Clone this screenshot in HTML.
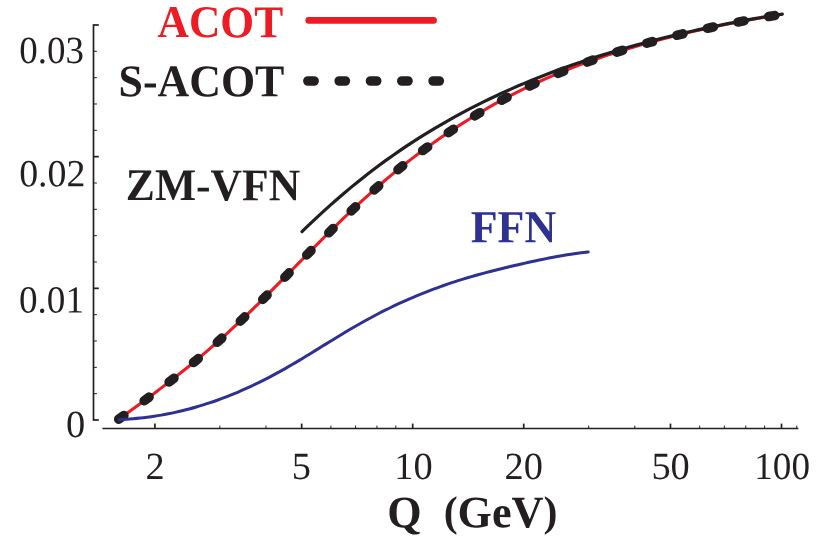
<!DOCTYPE html>
<html><head><meta charset="utf-8"><title>chart</title>
<style>html,body{margin:0;padding:0;background:#fff;}body{width:830px;height:559px;overflow:hidden;font-family:"Liberation Serif",serif;}svg{display:block;will-change:transform;}</style>
</head><body>
<svg width="830" height="559" viewBox="0 0 830 559">
<rect width="830" height="559" fill="#fff"/>
<g stroke="#231f20" fill="none">
<line x1="93.5" y1="24.2" x2="93.5" y2="420.8" stroke-width="1.7"/>
<line x1="102.4" y1="428.6" x2="798.4" y2="428.6" stroke-width="1.5"/>
<line x1="93.5" y1="420.00" x2="98.8" y2="420.00" stroke-width="1.7"/>
<line x1="93.5" y1="393.67" x2="96.9" y2="393.67" stroke-width="1"/>
<line x1="93.5" y1="367.33" x2="96.9" y2="367.33" stroke-width="1"/>
<line x1="93.5" y1="341.00" x2="96.9" y2="341.00" stroke-width="1"/>
<line x1="93.5" y1="314.66" x2="96.9" y2="314.66" stroke-width="1"/>
<line x1="93.5" y1="288.33" x2="98.8" y2="288.33" stroke-width="1.7"/>
<line x1="93.5" y1="262.00" x2="96.9" y2="262.00" stroke-width="1"/>
<line x1="93.5" y1="235.66" x2="96.9" y2="235.66" stroke-width="1"/>
<line x1="93.5" y1="209.33" x2="96.9" y2="209.33" stroke-width="1"/>
<line x1="93.5" y1="182.99" x2="96.9" y2="182.99" stroke-width="1"/>
<line x1="93.5" y1="156.66" x2="98.8" y2="156.66" stroke-width="1.7"/>
<line x1="93.5" y1="130.33" x2="96.9" y2="130.33" stroke-width="1"/>
<line x1="93.5" y1="103.99" x2="96.9" y2="103.99" stroke-width="1"/>
<line x1="93.5" y1="77.66" x2="96.9" y2="77.66" stroke-width="1"/>
<line x1="93.5" y1="51.32" x2="96.9" y2="51.32" stroke-width="1"/>
<line x1="93.5" y1="24.99" x2="98.8" y2="24.99" stroke-width="1.7"/>
<line x1="154.92" y1="428.6" x2="154.92" y2="423.6" stroke-width="1.7"/>
<line x1="301.68" y1="428.6" x2="301.68" y2="423.6" stroke-width="1.7"/>
<line x1="412.70" y1="428.6" x2="412.70" y2="423.6" stroke-width="1.7"/>
<line x1="523.72" y1="428.6" x2="523.72" y2="423.6" stroke-width="1.7"/>
<line x1="670.48" y1="428.6" x2="670.48" y2="423.6" stroke-width="1.7"/>
<line x1="781.50" y1="428.6" x2="781.50" y2="423.6" stroke-width="1.7"/>
<line x1="219.86" y1="428.6" x2="219.86" y2="425.6" stroke-width="1"/>
<line x1="265.94" y1="428.6" x2="265.94" y2="425.6" stroke-width="1"/>
<line x1="330.88" y1="428.6" x2="330.88" y2="425.6" stroke-width="1"/>
<line x1="355.57" y1="428.6" x2="355.57" y2="425.6" stroke-width="1"/>
<line x1="376.96" y1="428.6" x2="376.96" y2="425.6" stroke-width="1"/>
<line x1="395.82" y1="428.6" x2="395.82" y2="425.6" stroke-width="1"/>
<line x1="588.66" y1="428.6" x2="588.66" y2="425.6" stroke-width="1"/>
<line x1="634.74" y1="428.6" x2="634.74" y2="425.6" stroke-width="1"/>
<line x1="699.68" y1="428.6" x2="699.68" y2="425.6" stroke-width="1"/>
<line x1="724.37" y1="428.6" x2="724.37" y2="425.6" stroke-width="1"/>
<line x1="745.76" y1="428.6" x2="745.76" y2="425.6" stroke-width="1"/>
<line x1="764.62" y1="428.6" x2="764.62" y2="425.6" stroke-width="1"/>
<line x1="796.77" y1="428.6" x2="796.77" y2="425.6" stroke-width="1"/>
</g>
<g>
<path d="M118.50 419.34 C119.66 418.50 123.16 416.01 125.49 414.34 C127.82 412.66 130.15 410.99 132.47 409.30 C134.80 407.61 137.13 405.92 139.46 404.22 C141.79 402.52 144.12 400.81 146.45 399.09 C148.78 397.36 151.11 395.63 153.44 393.89 C155.77 392.15 158.10 390.39 160.42 388.63 C162.75 386.86 165.08 385.08 167.41 383.28 C169.74 381.49 172.07 379.68 174.40 377.85 C176.73 376.03 179.06 374.19 181.39 372.33 C183.72 370.47 186.04 368.60 188.37 366.70 C190.70 364.81 193.03 362.90 195.36 360.97 C197.69 359.04 200.02 357.09 202.35 355.11 C204.68 353.14 207.01 351.15 209.34 349.14 C211.66 347.12 213.99 345.09 216.32 343.03 C218.65 340.98 220.98 338.90 223.31 336.80 C225.64 334.70 227.97 332.58 230.30 330.44 C232.63 328.29 234.96 326.13 237.29 323.95 C239.61 321.77 241.94 319.56 244.27 317.34 C246.60 315.12 248.93 312.88 251.26 310.62 C253.59 308.37 255.92 306.09 258.25 303.81 C260.58 301.52 262.91 299.21 265.23 296.90 C267.56 294.59 269.89 292.26 272.22 289.92 C274.55 287.59 276.88 285.24 279.21 282.89 C281.54 280.54 283.87 278.18 286.20 275.82 C288.53 273.46 290.86 271.09 293.18 268.73 C295.51 266.36 297.84 263.99 300.17 261.63 C302.50 259.26 304.83 256.89 307.16 254.53 C309.49 252.17 311.82 249.81 314.15 247.46 C316.48 245.11 318.80 242.77 321.13 240.44 C323.46 238.10 325.79 235.77 328.12 233.46 C330.45 231.15 332.78 228.84 335.11 226.55 C337.44 224.26 339.77 221.99 342.10 219.73 C344.42 217.47 346.75 215.23 349.08 213.00 C351.41 210.78 353.74 208.57 356.07 206.39 C358.40 204.20 360.73 202.04 363.06 199.90 C365.39 197.75 367.72 195.63 370.05 193.54 C372.37 191.45 374.70 189.37 377.03 187.33 C379.36 185.28 381.69 183.26 384.02 181.27 C386.35 179.28 388.68 177.31 391.01 175.37 C393.34 173.43 395.67 171.51 397.99 169.63 C400.32 167.74 402.65 165.88 404.98 164.04 C407.31 162.21 409.64 160.40 411.97 158.61 C414.30 156.83 416.63 155.07 418.96 153.34 C421.29 151.60 423.62 149.89 425.94 148.20 C428.27 146.51 430.60 144.85 432.93 143.20 C435.26 141.56 437.59 139.94 439.92 138.33 C442.25 136.73 444.58 135.15 446.91 133.58 C449.24 132.01 451.56 130.47 453.89 128.94 C456.22 127.41 458.55 125.90 460.88 124.41 C463.21 122.92 465.54 121.45 467.87 119.99 C470.20 118.54 472.53 117.10 474.86 115.68 C477.18 114.26 479.51 112.86 481.84 111.48 C484.17 110.10 486.50 108.74 488.83 107.40 C491.16 106.06 493.49 104.74 495.82 103.44 C498.15 102.14 500.48 100.86 502.81 99.60 C505.13 98.34 507.46 97.11 509.79 95.89 C512.12 94.67 514.45 93.47 516.78 92.30 C519.11 91.12 521.44 89.96 523.77 88.82 C526.10 87.68 528.43 86.57 530.75 85.47 C533.08 84.37 535.41 83.29 537.74 82.23 C540.07 81.16 542.40 80.12 544.73 79.09 C547.06 78.07 549.39 77.06 551.72 76.06 C554.05 75.07 556.38 74.10 558.70 73.13 C561.03 72.17 563.36 71.23 565.69 70.30 C568.02 69.37 570.35 68.46 572.68 67.56 C575.01 66.66 577.34 65.77 579.67 64.90 C582.00 64.03 584.32 63.17 586.65 62.33 C588.98 61.48 591.31 60.65 593.64 59.83 C595.97 59.02 598.30 58.21 600.63 57.42 C602.96 56.63 605.29 55.85 607.62 55.08 C609.94 54.31 612.27 53.55 614.60 52.81 C616.93 52.06 619.26 51.33 621.59 50.60 C623.92 49.88 626.25 49.17 628.58 48.46 C630.91 47.76 633.24 47.07 635.57 46.39 C637.89 45.71 640.22 45.04 642.55 44.38 C644.88 43.72 647.21 43.07 649.54 42.43 C651.87 41.79 654.20 41.15 656.53 40.53 C658.86 39.91 661.19 39.30 663.51 38.69 C665.84 38.09 668.17 37.49 670.50 36.90 C672.83 36.32 675.16 35.74 677.49 35.17 C679.82 34.60 682.15 34.04 684.48 33.48 C686.81 32.93 689.14 32.38 691.46 31.85 C693.79 31.31 696.12 30.78 698.45 30.25 C700.78 29.73 703.11 29.22 705.44 28.71 C707.77 28.20 710.10 27.70 712.43 27.20 C714.76 26.71 717.08 26.22 719.41 25.74 C721.74 25.26 724.07 24.79 726.40 24.32 C728.73 23.86 731.06 23.40 733.39 22.94 C735.72 22.49 738.05 22.04 740.38 21.60 C742.70 21.16 745.03 20.72 747.36 20.29 C749.69 19.86 752.02 19.44 754.35 19.02 C756.68 18.60 759.01 18.19 761.34 17.79 C763.67 17.38 766.00 16.98 768.33 16.58 C770.65 16.19 772.98 15.80 775.31 15.42 C777.64 15.03 781.14 14.47 782.30 14.28" fill="none" stroke="#ed1c24" stroke-width="3.1"/>
<path d="M302.00 231.58 C303.16 230.47 306.64 227.11 308.96 224.91 C311.28 222.70 313.60 220.52 315.92 218.35 C318.24 216.19 320.56 214.05 322.88 211.93 C325.20 209.81 327.52 207.72 329.84 205.64 C332.16 203.57 334.48 201.52 336.80 199.50 C339.12 197.48 341.44 195.48 343.77 193.50 C346.09 191.53 348.41 189.58 350.73 187.65 C353.05 185.73 355.37 183.83 357.69 181.95 C360.01 180.08 362.33 178.23 364.65 176.41 C366.97 174.58 369.29 172.79 371.61 171.01 C373.93 169.24 376.25 167.49 378.57 165.77 C380.89 164.04 383.21 162.34 385.53 160.66 C387.85 158.99 390.17 157.33 392.49 155.70 C394.81 154.07 397.13 152.46 399.45 150.88 C401.77 149.29 404.09 147.73 406.41 146.18 C408.73 144.64 411.05 143.12 413.37 141.61 C415.69 140.11 418.01 138.63 420.33 137.17 C422.66 135.70 424.98 134.26 427.30 132.84 C429.62 131.41 431.94 130.01 434.26 128.62 C436.58 127.24 438.90 125.87 441.22 124.52 C443.54 123.17 445.86 121.84 448.18 120.53 C450.50 119.22 452.82 117.92 455.14 116.65 C457.46 115.37 459.78 114.11 462.10 112.86 C464.42 111.62 466.74 110.40 469.06 109.19 C471.38 107.98 473.70 106.78 476.02 105.61 C478.34 104.43 480.66 103.27 482.98 102.12 C485.30 100.98 487.62 99.85 489.94 98.74 C492.26 97.62 494.58 96.52 496.90 95.44 C499.22 94.35 501.54 93.29 503.87 92.23 C506.19 91.18 508.51 90.14 510.83 89.11 C513.15 88.08 515.47 87.07 517.79 86.07 C520.11 85.07 522.43 84.09 524.75 83.12 C527.07 82.15 529.39 81.19 531.71 80.24 C534.03 79.30 536.35 78.37 538.67 77.45 C540.99 76.53 543.31 75.62 545.63 74.72 C547.95 73.83 550.27 72.94 552.59 72.07 C554.91 71.20 557.23 70.34 559.55 69.49 C561.87 68.64 564.19 67.80 566.51 66.98 C568.83 66.15 571.15 65.34 573.47 64.53 C575.79 63.73 578.11 62.93 580.43 62.15 C582.76 61.36 585.08 60.59 587.40 59.82 C589.72 59.06 592.04 58.31 594.36 57.56 C596.68 56.82 599.00 56.08 601.32 55.36 C603.64 54.63 605.96 53.91 608.28 53.21 C610.60 52.50 612.92 51.80 615.24 51.11 C617.56 50.42 619.88 49.74 622.20 49.07 C624.52 48.39 626.84 47.73 629.16 47.07 C631.48 46.42 633.80 45.77 636.12 45.13 C638.44 44.49 640.76 43.86 643.08 43.24 C645.40 42.61 647.72 41.99 650.04 41.39 C652.36 40.78 654.68 40.18 657.00 39.58 C659.32 38.99 661.64 38.40 663.97 37.82 C666.29 37.24 668.61 36.67 670.93 36.11 C673.25 35.54 675.57 34.98 677.89 34.43 C680.21 33.88 682.53 33.34 684.85 32.80 C687.17 32.26 689.49 31.73 691.81 31.21 C694.13 30.69 696.45 30.17 698.77 29.66 C701.09 29.15 703.41 28.65 705.73 28.15 C708.05 27.65 710.37 27.16 712.69 26.68 C715.01 26.19 717.33 25.71 719.65 25.24 C721.97 24.77 724.29 24.31 726.61 23.85 C728.93 23.39 731.25 22.94 733.57 22.49 C735.89 22.04 738.21 21.60 740.53 21.17 C742.86 20.74 745.18 20.31 747.50 19.89 C749.82 19.47 752.14 19.05 754.46 18.65 C756.78 18.24 759.10 17.84 761.42 17.44 C763.74 17.05 766.06 16.66 768.38 16.27 C770.70 15.89 773.02 15.52 775.34 15.15 C777.66 14.78 781.14 14.24 782.30 14.06" fill="none" stroke="#231f20" stroke-width="3.2" stroke-linecap="round"/>
<path d="M118.50 419.34 C119.66 418.50 123.16 416.01 125.49 414.34 C127.82 412.66 130.15 410.99 132.47 409.30 C134.80 407.61 137.13 405.92 139.46 404.22 C141.79 402.52 144.12 400.81 146.45 399.09 C148.78 397.36 151.11 395.63 153.44 393.89 C155.77 392.15 158.10 390.39 160.42 388.63 C162.75 386.86 165.08 385.08 167.41 383.28 C169.74 381.49 172.07 379.68 174.40 377.85 C176.73 376.03 179.06 374.19 181.39 372.33 C183.72 370.47 186.04 368.60 188.37 366.70 C190.70 364.81 193.03 362.90 195.36 360.97 C197.69 359.04 200.02 357.09 202.35 355.11 C204.68 353.14 207.01 351.15 209.34 349.14 C211.66 347.12 213.99 345.09 216.32 343.03 C218.65 340.98 220.98 338.90 223.31 336.80 C225.64 334.70 227.97 332.58 230.30 330.44 C232.63 328.29 234.96 326.13 237.29 323.95 C239.61 321.77 241.94 319.56 244.27 317.34 C246.60 315.12 248.93 312.88 251.26 310.62 C253.59 308.37 255.92 306.09 258.25 303.81 C260.58 301.52 262.91 299.21 265.23 296.90 C267.56 294.59 269.89 292.26 272.22 289.92 C274.55 287.59 276.88 285.24 279.21 282.89 C281.54 280.54 283.87 278.18 286.20 275.82 C288.53 273.46 290.86 271.09 293.18 268.73 C295.51 266.36 297.84 263.99 300.17 261.63 C302.50 259.26 304.83 256.89 307.16 254.53 C309.49 252.17 311.82 249.81 314.15 247.46 C316.48 245.11 318.80 242.77 321.13 240.44 C323.46 238.10 325.79 235.77 328.12 233.46 C330.45 231.15 332.78 228.84 335.11 226.55 C337.44 224.26 339.77 221.99 342.10 219.73 C344.42 217.47 346.75 215.23 349.08 213.00 C351.41 210.78 353.74 208.57 356.07 206.39 C358.40 204.20 360.73 202.04 363.06 199.90 C365.39 197.75 367.72 195.63 370.05 193.54 C372.37 191.45 374.70 189.37 377.03 187.33 C379.36 185.28 381.69 183.26 384.02 181.27 C386.35 179.28 388.68 177.31 391.01 175.37 C393.34 173.43 395.67 171.51 397.99 169.63 C400.32 167.74 402.65 165.88 404.98 164.04 C407.31 162.21 409.64 160.40 411.97 158.61 C414.30 156.83 416.63 155.07 418.96 153.34 C421.29 151.60 423.62 149.89 425.94 148.20 C428.27 146.51 430.60 144.85 432.93 143.20 C435.26 141.56 437.59 139.94 439.92 138.33 C442.25 136.73 444.58 135.15 446.91 133.58 C449.24 132.01 451.56 130.47 453.89 128.94 C456.22 127.41 458.55 125.90 460.88 124.41 C463.21 122.92 465.54 121.45 467.87 119.99 C470.20 118.54 472.53 117.10 474.86 115.68 C477.18 114.26 479.51 112.86 481.84 111.48 C484.17 110.10 486.50 108.74 488.83 107.40 C491.16 106.06 493.49 104.74 495.82 103.44 C498.15 102.14 500.48 100.86 502.81 99.60 C505.13 98.34 507.46 97.11 509.79 95.89 C512.12 94.67 514.45 93.47 516.78 92.30 C519.11 91.12 521.44 89.96 523.77 88.82 C526.10 87.68 528.43 86.57 530.75 85.47 C533.08 84.37 535.41 83.29 537.74 82.23 C540.07 81.16 542.40 80.12 544.73 79.09 C547.06 78.07 549.39 77.06 551.72 76.06 C554.05 75.07 556.38 74.10 558.70 73.13 C561.03 72.17 563.36 71.23 565.69 70.30 C568.02 69.37 570.35 68.46 572.68 67.56 C575.01 66.66 577.34 65.77 579.67 64.90 C582.00 64.03 584.32 63.17 586.65 62.33 C588.98 61.48 591.31 60.65 593.64 59.83 C595.97 59.02 598.30 58.21 600.63 57.42 C602.96 56.63 605.29 55.85 607.62 55.08 C609.94 54.31 612.27 53.55 614.60 52.81 C616.93 52.06 619.26 51.33 621.59 50.60 C623.92 49.88 626.25 49.17 628.58 48.46 C630.91 47.76 633.24 47.07 635.57 46.39 C637.89 45.71 640.22 45.04 642.55 44.38 C644.88 43.72 647.21 43.07 649.54 42.43 C651.87 41.79 654.20 41.15 656.53 40.53 C658.86 39.91 661.19 39.30 663.51 38.69 C665.84 38.09 668.17 37.49 670.50 36.90 C672.83 36.32 675.16 35.74 677.49 35.17 C679.82 34.60 682.15 34.04 684.48 33.48 C686.81 32.93 689.14 32.38 691.46 31.85 C693.79 31.31 696.12 30.78 698.45 30.25 C700.78 29.73 703.11 29.22 705.44 28.71 C707.77 28.20 710.10 27.70 712.43 27.20 C714.76 26.71 717.08 26.22 719.41 25.74 C721.74 25.26 724.07 24.79 726.40 24.32 C728.73 23.86 731.06 23.40 733.39 22.94 C735.72 22.49 738.05 22.04 740.38 21.60 C742.70 21.16 745.03 20.72 747.36 20.29 C749.69 19.86 752.02 19.44 754.35 19.02 C756.68 18.60 759.01 18.19 761.34 17.79 C763.67 17.38 766.00 16.98 768.33 16.58 C770.65 16.19 772.98 15.80 775.31 15.42 C777.64 15.03 781.14 14.47 782.30 14.28" fill="none" stroke="#231f20" stroke-width="9.5" stroke-linecap="round" stroke-dasharray="6.2 25.04" stroke-dashoffset="-0.4"/>
<path d="M119.20 419.64 C120.37 419.58 123.87 419.43 126.20 419.29 C128.53 419.14 130.87 418.97 133.20 418.77 C135.53 418.58 137.87 418.35 140.20 418.10 C142.53 417.86 144.87 417.58 147.20 417.28 C149.53 416.97 151.87 416.65 154.20 416.29 C156.53 415.93 158.87 415.55 161.20 415.14 C163.53 414.74 165.87 414.30 168.20 413.84 C170.53 413.38 172.87 412.89 175.20 412.37 C177.53 411.86 179.87 411.32 182.20 410.75 C184.53 410.18 186.87 409.59 189.20 408.97 C191.53 408.34 193.87 407.70 196.20 407.02 C198.53 406.35 200.87 405.65 203.20 404.92 C205.53 404.19 207.87 403.44 210.20 402.66 C212.53 401.88 214.87 401.07 217.20 400.23 C219.53 399.40 221.87 398.54 224.20 397.65 C226.53 396.77 228.87 395.85 231.20 394.91 C233.53 393.97 235.87 393.01 238.20 392.01 C240.53 391.02 242.87 390.00 245.20 388.96 C247.53 387.91 249.87 386.84 252.20 385.75 C254.53 384.65 256.87 383.53 259.20 382.38 C261.53 381.23 263.87 380.05 266.20 378.85 C268.53 377.66 270.87 376.43 273.20 375.18 C275.53 373.93 277.87 372.66 280.20 371.37 C282.53 370.07 284.87 368.75 287.20 367.42 C289.53 366.08 291.87 364.72 294.20 363.35 C296.53 361.98 298.87 360.59 301.20 359.19 C303.53 357.79 305.87 356.37 308.20 354.94 C310.53 353.52 312.87 352.08 315.20 350.64 C317.53 349.20 319.87 347.76 322.20 346.31 C324.53 344.87 326.87 343.42 329.20 341.98 C331.53 340.55 333.87 339.11 336.20 337.69 C338.53 336.26 340.87 334.85 343.20 333.45 C345.53 332.05 347.87 330.66 350.20 329.29 C352.53 327.92 354.87 326.57 357.20 325.23 C359.53 323.90 361.87 322.58 364.20 321.29 C366.53 319.99 368.87 318.72 371.20 317.47 C373.53 316.21 375.87 314.98 378.20 313.77 C380.53 312.56 382.87 311.37 385.20 310.21 C387.53 309.04 389.87 307.90 392.20 306.77 C394.53 305.65 396.87 304.55 399.20 303.47 C401.53 302.39 403.87 301.33 406.20 300.30 C408.53 299.26 410.87 298.25 413.20 297.26 C415.53 296.26 417.87 295.29 420.20 294.34 C422.53 293.39 424.87 292.46 427.20 291.55 C429.53 290.65 431.87 289.76 434.20 288.89 C436.53 288.02 438.87 287.18 441.20 286.35 C443.53 285.52 445.87 284.71 448.20 283.92 C450.53 283.13 452.87 282.36 455.20 281.60 C457.53 280.85 459.87 280.11 462.20 279.39 C464.53 278.67 466.87 277.97 469.20 277.28 C471.53 276.59 473.87 275.92 476.20 275.27 C478.53 274.61 480.87 273.97 483.20 273.34 C485.53 272.71 487.87 272.09 490.20 271.48 C492.53 270.88 494.87 270.29 497.20 269.70 C499.53 269.12 501.87 268.55 504.20 267.98 C506.53 267.42 508.87 266.86 511.20 266.31 C513.53 265.77 515.87 265.23 518.20 264.69 C520.53 264.16 522.87 263.63 525.20 263.11 C527.53 262.58 529.87 262.07 532.20 261.56 C534.53 261.05 536.87 260.55 539.20 260.06 C541.53 259.57 543.87 259.08 546.20 258.61 C548.53 258.14 550.87 257.68 553.20 257.23 C555.53 256.78 557.87 256.34 560.20 255.92 C562.53 255.51 564.87 255.10 567.20 254.72 C569.53 254.34 571.87 253.97 574.20 253.64 C576.53 253.30 578.87 252.99 581.20 252.71 C583.53 252.43 587.03 252.08 588.20 251.96" fill="none" stroke="#2e3192" stroke-width="3.0" stroke-linecap="round"/>
<line x1="308.7" y1="20.4" x2="433.6" y2="20.4" stroke="#ed1c24" stroke-width="6.6" stroke-linecap="round"/>
<line x1="307.9" y1="81" x2="445" y2="81" stroke="#231f20" stroke-width="9.6" stroke-linecap="round" stroke-dasharray="6.2 25.1"/>
</g>
<g font-family="'Liberation Serif', serif">
<text transform="translate(157.59 37.10) rotate(0.03) scale(0.9551 1)" font-size="45.5" font-weight="bold" fill="#ed1c24" xml:space="preserve" style="white-space:pre">ACOT</text>
<text transform="translate(118.49 96.30) rotate(0.03) scale(0.9650 1)" font-size="45.5" font-weight="bold" fill="#231f20" xml:space="preserve" style="white-space:pre">S-ACOT</text>
<text transform="translate(125.86 200.10) rotate(0.03) scale(0.9623 1)" font-size="45.3" font-weight="bold" fill="#231f20" xml:space="preserve" style="white-space:pre">ZM-VFN</text>
<text transform="translate(470.77 242.30) rotate(0.03) scale(0.9577 1)" font-size="45.9" font-weight="bold" fill="#2e3192" xml:space="preserve" style="white-space:pre">FFN</text>
<text transform="translate(387.24 527.20) rotate(0.03) scale(0.9818 1)" font-size="45.0" font-weight="bold" fill="#231f20" xml:space="preserve" style="white-space:pre">Q  <tspan font-size="42.6" dy="-1.5">(</tspan><tspan dy="1.5">GeV</tspan><tspan font-size="42.6" dy="-1.5">)</tspan></text>
<text transform="translate(19.21 63.10) rotate(0.03) scale(0.9629 1)" font-size="38.4" fill="#231f20" xml:space="preserve" style="white-space:pre">0.03</text>
<text transform="translate(19.14 186.20) rotate(0.03) scale(0.9871 1)" font-size="38.4" fill="#231f20" xml:space="preserve" style="white-space:pre">0.02</text>
<text transform="translate(19.00 312.60) rotate(0.03) scale(0.9670 1)" font-size="38.4" fill="#231f20" xml:space="preserve" style="white-space:pre">0.01</text>
<text transform="translate(65.98 436.90) rotate(0.03) scale(1.0000 1)" font-size="38.4" fill="#231f20" xml:space="preserve" style="white-space:pre">0</text>
<text transform="translate(145.59 478.90) rotate(0.03) scale(1.0000 1)" font-size="38.4" fill="#231f20" xml:space="preserve" style="white-space:pre">2</text>
<text transform="translate(291.73 478.90) rotate(0.03) scale(1.0000 1)" font-size="38.4" fill="#231f20" xml:space="preserve" style="white-space:pre">5</text>
<text transform="translate(394.33 478.90) rotate(0.03) scale(1.0000 1)" font-size="38.4" fill="#231f20" xml:space="preserve" style="white-space:pre">10</text>
<text transform="translate(504.54 478.90) rotate(0.03) scale(1.0000 1)" font-size="38.4" fill="#231f20" xml:space="preserve" style="white-space:pre">20</text>
<text transform="translate(651.39 478.90) rotate(0.03) scale(1.0000 1)" font-size="38.4" fill="#231f20" xml:space="preserve" style="white-space:pre">50</text>
<text transform="translate(754.25 478.90) rotate(0.03) scale(0.9672 1)" font-size="38.4" fill="#231f20" xml:space="preserve" style="white-space:pre">100</text>
</g>
</svg>
</body></html>
